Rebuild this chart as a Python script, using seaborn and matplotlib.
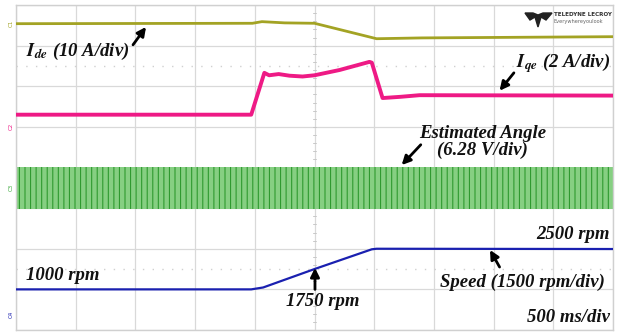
import numpy as np
import pandas as pd
import matplotlib
matplotlib.use("Agg")
import matplotlib.pyplot as plt
import seaborn as sns
from matplotlib.patches import Polygon

# ---------------- data (time in s, traces in screen divisions / rpm) ----------
ide_t = [0.0, 1.98, 2.06, 2.25, 2.50, 3.02, 3.40, 5.00]
ide_div = [7.54, 7.55, 7.59, 7.56, 7.55, 7.17, 7.19, 7.22]

iqe_t = [0.0, 1.97, 2.08, 2.12, 2.20, 2.29, 2.40, 2.50, 2.71, 2.96, 2.98, 3.07, 3.22, 3.38, 5.00]
iqe_div = [5.30, 5.30, 6.33, 6.27, 6.30, 6.26, 6.24, 6.27, 6.40, 6.60, 6.58, 5.71, 5.74, 5.78, 5.77]

angle_t = [0.0, 5.0]
angle_lo = [2.98, 2.98]
angle_hi = [4.01, 4.01]

speed_t = [0.0, 1.97, 2.07, 2.50, 2.98, 3.02, 5.00]
speed_rpm = [1000, 1000, 1070, 1750, 2480, 2500, 2490]
speed_offset_rpm = 1000   # rpm shown at 1 div
speed_scale = 1500        # rpm per div

TIME_PER_DIV = 0.5
N_XDIV, N_YDIV = 10, 8

C_IDE = "#a3a324"
C_IQE = "#ee1a85"
C_ANG = "#3aa83a"
C_SPD = "#1a20b0"

sns.set_theme(style="white")
plt.rcParams["font.family"] = ["Liberation Serif", "DejaVu Serif"]
plt.rcParams["mathtext.fontset"] = "stix"
plt.rcParams["hatch.color"] = "#2f9a2f"
plt.rcParams["hatch.linewidth"] = 0.8

fig = plt.figure(figsize=(6.24, 3.32), dpi=100)
ax = fig.add_axes([16 / 624, 2 / 332, 597 / 624, 325 / 332])
ax.set_xlim(0, N_XDIV * TIME_PER_DIV)
ax.set_ylim(0, N_YDIV)

# grid
for i in range(N_XDIV + 1):
    ax.axvline(i * TIME_PER_DIV, color="#d9d9d9", lw=0.9, zorder=0)
for j in range(N_YDIV + 1):
    ax.axhline(j, color="#d9d9d9", lw=0.9, zorder=0)
for yv in (1.5, 6.5):
    ax.axhline(yv, color="#d0d0d0", lw=1.0, ls=(0, (1, 6)), zorder=0)
# center tick marks
cx = N_XDIV / 2 * TIME_PER_DIV
for k in range(N_YDIV * 5 + 1):
    ax.plot([cx - 0.012, cx + 0.012], [k / 5, k / 5], color="#c8c8c8", lw=0.7, zorder=0)

for s in ax.spines.values():
    s.set_color("#d0d0d0")
    s.set_linewidth(1.0)
ax.set_xticks([])
ax.set_yticks([])

# traces
df_ide = pd.DataFrame({"t": ide_t, "v": ide_div})
df_iqe = pd.DataFrame({"t": iqe_t, "v": iqe_div})
df_spd = pd.DataFrame({"t": speed_t,
                       "v": [1 + (r - speed_offset_rpm) / speed_scale for r in speed_rpm]})

sns.lineplot(data=df_ide, x="t", y="v", ax=ax, color=C_IDE, lw=2.0, zorder=3)
sns.lineplot(data=df_iqe, x="t", y="v", ax=ax, color=C_IQE, lw=2.8, zorder=3)
sns.lineplot(data=df_spd, x="t", y="v", ax=ax, color=C_SPD, lw=1.6, zorder=3)

# estimated angle band (dense sawtooth rendered as striped band)
ax.fill_between(angle_t, angle_lo, angle_hi, facecolor="#86cf82", edgecolor="#2f9a2f",
                hatch="|||", lw=0, zorder=2)
ax.set_xlabel("")
ax.set_ylabel("")

# annotations
tk = dict(fontsize=13.5, fontweight="bold", style="italic", color="#111111", zorder=5)
ap = dict(arrowstyle="-|>", color="black", lw=2.0, mutation_scale=13, shrinkA=0, shrinkB=0)

ax.text(0.084, 6.85, r"$\mathbfit{I}_{\mathbfit{de}}$ (10 A/div)", ha="left", va="center", **tk)
ax.annotate("", xy=(1.089, 7.46), xytext=(0.98, 7.02), arrowprops=ap)

ax.text(4.19, 6.58, r"$\mathbfit{I}_{\mathbfit{qe}}$ (2 A/div)", ha="left", va="center", **tk)
ax.annotate("", xy=(4.05, 5.89), xytext=(4.17, 6.33), arrowprops=ap)

ax.text(3.91, 4.62, "Estimated Angle\n(6.28 V/div)", ha="center", va="center",
        multialignment="center", linespacing=1.0, **tk)
ax.annotate("", xy=(3.23, 4.06), xytext=(3.39, 4.56), arrowprops=ap)

ax.text(4.975, 2.34, "2500 rpm", ha="right", va="center", **tk)
ax.text(0.084, 1.35, "1000 rpm", ha="left", va="center", **tk)
ax.text(2.57, 0.69, "1750 rpm", ha="center", va="center", **tk)
ax.annotate("", xy=(2.504, 1.53), xytext=(2.504, 1.0), arrowprops=ap)
ax.text(4.93, 1.18, "Speed (1500 rpm/div)", ha="right", va="center", **tk)
ax.annotate("", xy=(3.97, 1.97), xytext=(4.05, 1.55), arrowprops=ap)
ax.text(4.975, 0.30, "500 ms/div", ha="right", va="center", **tk)

# logo
def axfrac(px, py):
    return [(px - 16) / 597, (330 - py) / 325]

ax.text(*axfrac(554, 15), "TELEDYNE LECROY", transform=ax.transAxes, ha="left", va="center",
        fontsize=4.1, fontweight="bold", family="DejaVu Sans", color="#333333")
ax.text(*axfrac(554, 21.5), "Everywhereyoulook", transform=ax.transAxes, ha="left", va="center",
        fontsize=3.6, family="DejaVu Sans", color="#666666")
logo_pts = [(525, 13), (533, 13), (538, 15), (543, 13), (552, 13), (546, 20), (541, 17),
            (538, 27), (535, 17), (530, 20)]
ax.add_patch(Polygon([axfrac(*p) for p in logo_pts], closed=True,
                     transform=ax.transAxes, color="#222222", zorder=5))

# channel markers
for yy, cc, lab in [(23, C_IDE, "C1"), (126, C_IQE, "C2"), (187, C_ANG, "C3"), (314, C_SPD, "C4")]:
    fig.text(11 / 624, 1 - yy / 332, lab, color=cc, fontsize=4, rotation=90,
             ha="center", va="center", family="DejaVu Sans")

fig.savefig("out.png", dpi=100, facecolor="white")
